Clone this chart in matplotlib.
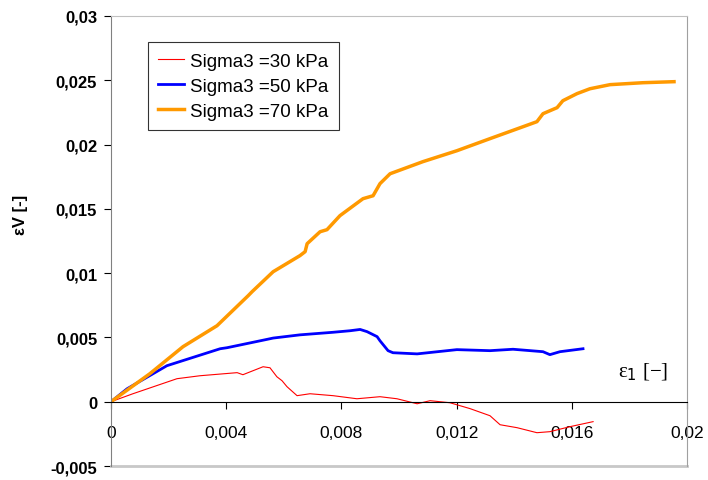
import matplotlib
matplotlib.use('Agg')
import matplotlib.pyplot as plt
from matplotlib.ticker import FuncFormatter

plt.rcParams['font.family'] = ['Liberation Sans', 'DejaVu Sans']

# values (eps1, epsV)
eps1_30 = [0, 0.00076, 0.00229, 0.00309, 0.00438, 0.00458, 0.00493, 0.00528, 0.00552,
           0.00576, 0.00594, 0.00611, 0.00646, 0.00691, 0.00771, 0.00854, 0.00934,
           0.00993, 0.01063, 0.01108, 0.01177, 0.01247, 0.01316, 0.01351, 0.01410,
           0.01479, 0.01524, 0.01594, 0.01674]
epsV_30 = [0, 0.00062, 0.00179, 0.00202, 0.00226, 0.00210, 0.00241, 0.00272, 0.00264,
           0.00194, 0.00163, 0.00117, 0.00047, 0.00062, 0.00047, 0.00023, 0.00039,
           0.00023, -0.00016, 0.00008, -0.00008, -0.00054, -0.00109, -0.00179,
           -0.00202, -0.00241, -0.00233, -0.00194, -0.00155]
eps1_50 = [0, 0.00056, 0.00194, 0.00379, 0.00403, 0.00542, 0.00563, 0.00656, 0.00771,
           0.00830, 0.00865, 0.00889, 0.00924, 0.00934, 0.00962, 0.00979, 0.01063,
           0.01201, 0.01316, 0.01396, 0.01500, 0.01524, 0.01559, 0.01639]
epsV_50 = [0, 0.00101, 0.00280, 0.00412, 0.00420, 0.00485, 0.00495, 0.00520, 0.00540,
           0.00552, 0.00562, 0.00545, 0.00506, 0.00474, 0.00397, 0.00381, 0.00372,
           0.00405, 0.00397, 0.00408, 0.00389, 0.00366, 0.00389, 0.00412]
eps1_70 = [0, 0.00135, 0.00250, 0.00368, 0.00476, 0.00490, 0.00563, 0.00656, 0.00674,
           0.00681, 0.00726, 0.00750, 0.00795, 0.00875, 0.00910, 0.00934, 0.00969,
           0.01083, 0.01201, 0.01316, 0.01431, 0.01479, 0.01500, 0.01549, 0.01569,
           0.01618, 0.01663, 0.01733, 0.01847, 0.01955]
epsV_70 = [0, 0.00218, 0.00428, 0.00591, 0.00824, 0.00856, 0.01011, 0.01136, 0.01167,
           0.01229, 0.01322, 0.01338, 0.01447, 0.01579, 0.01602, 0.01696, 0.01773,
           0.01867, 0.01952, 0.02046, 0.02139, 0.02178, 0.02240, 0.02287, 0.02341,
           0.02396, 0.02434, 0.02466, 0.02481, 0.02489]

xticks = [0, 0.004, 0.008, 0.012, 0.016, 0.02]
yticks = [-0.005, 0, 0.005, 0.01, 0.015, 0.02, 0.025, 0.03]
names = ['Sigma3 =30 kPa', 'Sigma3 =50 kPa', 'Sigma3 =70 kPa']


def comma(v, pos):
    return ('%g' % v).replace('.', ',')


fig = plt.figure(figsize=(7.08, 4.81), dpi=100)
ax = fig.add_axes([0.1568, 0.0291, 0.8135, 0.9356])

ax.plot(eps1_30, epsV_30, color='#ff0000', linewidth=0.8, label=names[0])
ax.plot(eps1_50, epsV_50, color='#0000ff', linewidth=2.0, label=names[1])
ax.plot(eps1_70, epsV_70, color='#ff9900', linewidth=2.5, label=names[2])

ax.set_xlim(0, 0.02)
ax.set_ylim(-0.005, 0.03)
ax.set_xticks(xticks)
ax.set_yticks(yticks)
ax.xaxis.set_major_formatter(FuncFormatter(comma))
ax.yaxis.set_major_formatter(FuncFormatter(comma))

ax.spines['bottom'].set_position(('data', 0))
ax.spines['bottom'].set_color('black')
ax.spines['left'].set_color('#808080')
ax.spines['top'].set_color('#c0c0c0')
ax.spines['right'].set_color('#a0a0a0')
ax.plot([0, 1], [0, 0], transform=ax.transAxes, color='#c8c8c8', linewidth=2, clip_on=False)

ax.tick_params(axis='x', direction='out', length=5, pad=12, labelsize=12.5)
ax.tick_params(axis='y', direction='out', length=5, pad=5, labelsize=12, colors='black')
for lab in ax.get_yticklabels():
    lab.set_fontweight('bold')

ax.set_ylabel('εV [-]', fontsize=12, fontweight='bold')
ax.yaxis.set_label_coords(-0.145, 0.56)
ax.text(0.01847, 0.00233, 'ε$_1$ [−]', fontsize=15, family=['Liberation Serif', 'DejaVu Serif'],
        ha='center', va='center')

leg = ax.legend(loc='upper left', bbox_to_anchor=(0.064, 0.942), borderaxespad=0,
                fontsize=13.5, frameon=True, fancybox=False, edgecolor='black',
                handlelength=1.4, handletextpad=0.3, labelspacing=0.42, borderpad=0.55)
leg.get_frame().set_linewidth(0.8)

fig.savefig('out.png', dpi=100)
